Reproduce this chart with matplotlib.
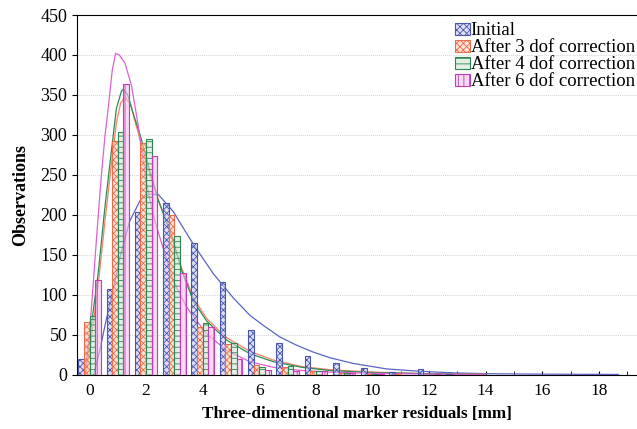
import matplotlib
matplotlib.use("Agg")
from matplotlib import pyplot as plt
from matplotlib.patches import Patch
from matplotlib.ticker import MultipleLocator
import numpy as np

# histogram bins (mm) and counts per series
bins = list(range(14))
initial = [20, 107, 204, 215, 164, 116, 56, 39, 23, 14, 8, 3, 7, 1]
dof3 = [66, 292, 290, 200, 59, 38, 12, 9, 5, 2, 1, 1, 0, 0]
dof4 = [73, 303, 295, 174, 65, 39, 10, 11, 4, 2, 1, 0, 0, 0]
dof6 = [118, 364, 274, 127, 59, 19, 6, 5, 5, 2, 1, 0, 1, 0]

labels = ["Initial", "After 3 dof correction", "After 4 dof correction", "After 6 dof correction"]

# fitted curves
fit_initial_x = [0.15, 0.36, 0.55, 0.77, 1.1, 1.42, 1.79, 2.1, 2.44, 2.96, 3.2, 3.67, 4.38, 5.08,
                 5.67, 6.2, 6.73, 7.3, 7.91, 8.5, 9.3, 10.5, 11.7, 12.9, 14.1, 15.5, 17.0, 18.7]
fit_initial_y = [0, 30, 62, 96, 150, 192, 218, 226, 225, 204, 190, 163, 126, 96,
                 74, 60, 47, 37, 28, 21, 14, 7, 4, 2, 1, 0.6, 0.3, 0.1]

fit_dof3_x = [-0.12, 0.1, 0.3, 0.54, 0.77, 0.95, 1.1, 1.26, 1.45, 1.7, 2.0, 2.44, 2.85, 3.26,
              3.67, 4.14, 4.85, 5.67, 6.5, 7.5, 8.5, 10.0, 12.0, 14.0]
fit_dof3_y = [0, 55, 110, 190, 262, 315, 340, 347, 338, 305, 265, 218, 180, 133,
              96, 70, 46, 29, 18, 10, 6, 3, 1, 0.3]

fit_dof4_x = [-0.17, 0.07, 0.3, 0.54, 0.77, 0.95, 1.13, 1.2, 1.35, 1.55, 1.79, 1.91, 2.14, 2.44,
              2.85, 3.26, 3.67, 4.14, 4.85, 5.67, 6.5, 7.5, 8.5, 10.0, 12.0, 14.0]
fit_dof4_y = [0, 63, 125, 208, 279, 333, 355, 357, 350, 326, 300, 284, 254, 217,
              179, 130, 92, 67, 43, 26, 16, 9, 5, 2.5, 1, 0.3]

fit_dof6_x = [-0.18, -0.05, 0.07, 0.24, 0.42, 0.55, 0.66, 0.8, 0.92, 1.05, 1.25, 1.48, 1.72, 2.02,
              2.25, 2.49, 2.96, 3.44, 3.69, 4.14, 4.85, 5.67, 6.5, 7.5, 8.5, 10.0, 12.0, 14.0]
fit_dof6_y = [0, 35, 84, 167, 250, 300, 333, 380, 402, 400, 390, 362, 312, 238,
              200, 171, 117, 84, 72, 51, 30, 16, 9, 5, 3, 1.5, 0.5, 0.2]

edge_colors = ["#4a55b0", "#f06a4a", "#2f8550", "#c83ab8"]
face_colors = [(0.78, 0.80, 0.93, 0.6), (1.0, 0.82, 0.76, 0.6),
               (0.80, 0.90, 0.83, 0.6), (0.95, 0.76, 0.92, 0.6)]
line_colors = ["#5a64c8", "#f4845f", "#2e8b57", "#e060d0"]
hatches = ["xxxxx", "xxxxx", "---", "|||"]

plt.rcParams['font.family'] = ['Liberation Serif', 'DejaVu Serif']
plt.rcParams['hatch.linewidth'] = 0.6

fig = plt.figure(figsize=(6.37, 4.29), dpi=100)
ax = fig.add_axes([0.121, 0.127, 0.879, 0.838])

# curves first, bars drawn over them semi-transparent
fits = [(fit_initial_x, fit_initial_y), (fit_dof3_x, fit_dof3_y),
        (fit_dof4_x, fit_dof4_y), (fit_dof6_x, fit_dof6_y)]
for (fx, fy), c in zip(fits, line_colors):
    ax.plot(fx, fy, color=c, lw=0.9, zorder=2)

width = 0.2
offsets = [-0.3, -0.1, 0.1, 0.3]
series = [initial, dof3, dof4, dof6]
pos = np.array(bins)
for vals, off, fc, ec, h in zip(series, offsets, face_colors, edge_colors, hatches):
    ax.bar(pos + off, vals, width=width, facecolor=fc, edgecolor=ec, hatch=h,
           linewidth=0.8, zorder=3)

ax.set_xlim(-0.44, 19.35)
ax.set_ylim(0, 450)
ax.xaxis.set_major_locator(MultipleLocator(2))
ax.xaxis.set_minor_locator(MultipleLocator(1))
ax.yaxis.set_major_locator(MultipleLocator(50))
ax.tick_params(axis='x', which='both', direction='in', length=3, labelsize=12.5, pad=6)
ax.tick_params(axis='y', direction='out', length=3.5, labelsize=13)
ax.grid(axis='y', color='#d2d2d2', linestyle=(0, (1, 1)), linewidth=0.7, zorder=0)
ax.set_axisbelow(True)
ax.spines['right'].set_visible(False)

ax.set_xlabel("Three-dimentional marker residuals [mm]", fontsize=12.3, fontweight='bold', labelpad=5)
ax.set_ylabel("Observations", fontsize=13, fontweight='bold', labelpad=8)

handles = [Patch(facecolor=fc, edgecolor=ec, hatch=h, linewidth=0.8)
           for fc, ec, h in zip(face_colors, edge_colors, hatches)]
fig.legend(handles, labels, loc='upper left', bbox_to_anchor=(0.714, 0.948),
           frameon=False, fontsize=13.5, handlelength=0.8, handleheight=0.6,
           handletextpad=0.05, labelspacing=0.0, borderaxespad=0, borderpad=0)

fig.savefig("out.png", dpi=100)
